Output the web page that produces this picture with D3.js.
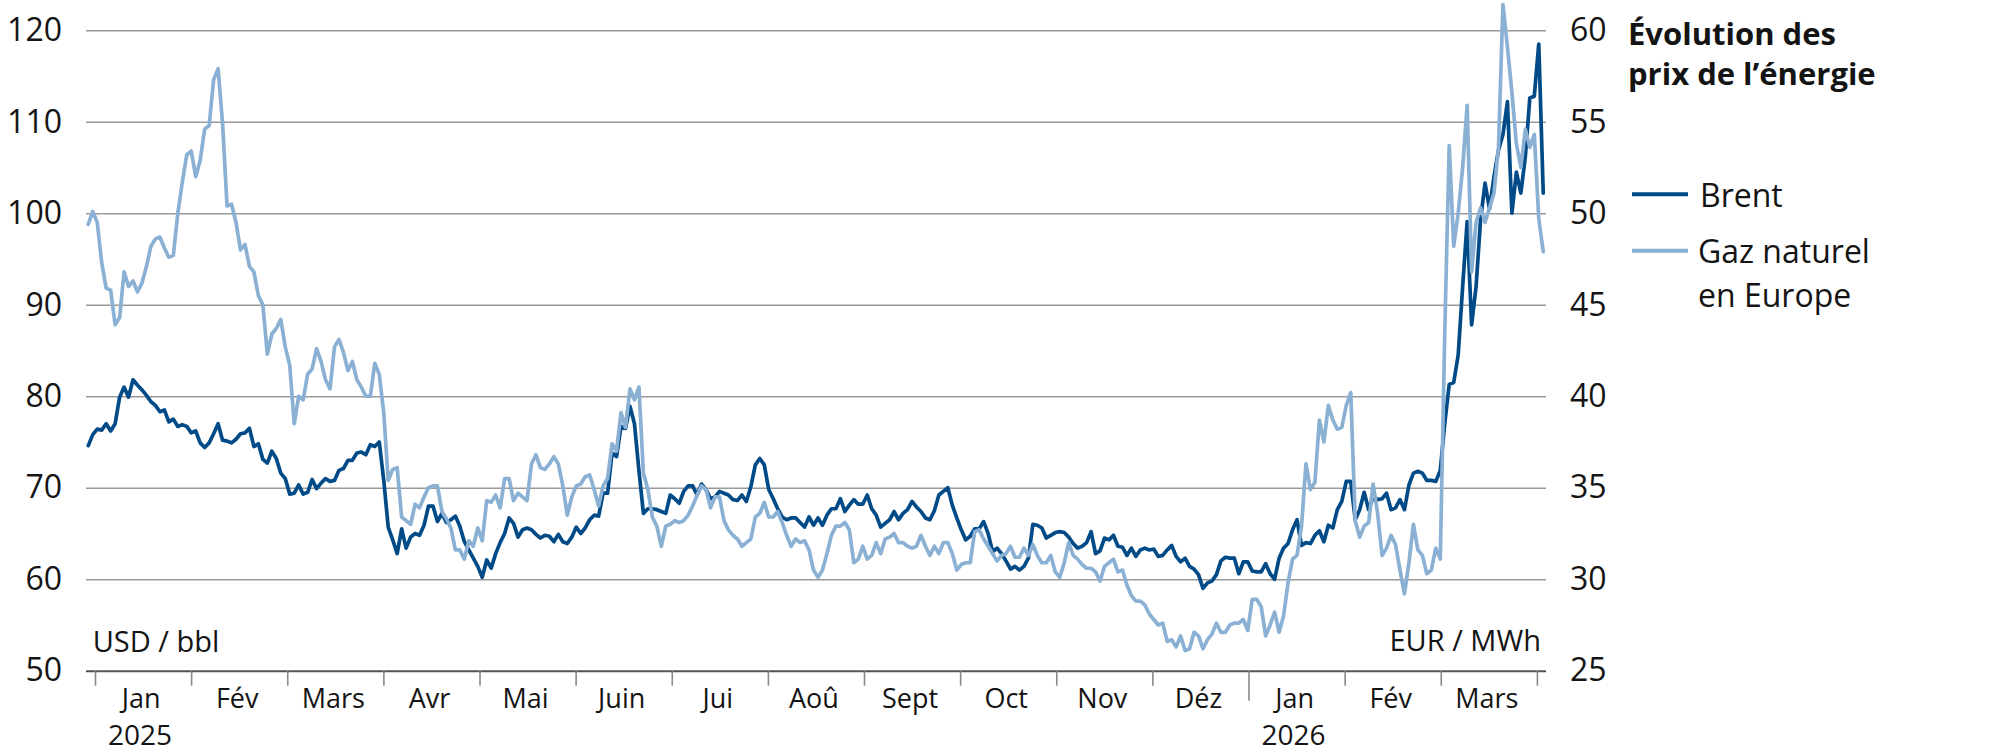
<!DOCTYPE html>
<html><head><meta charset="utf-8">
<script src="https://cdn.jsdelivr.net/npm/d3@7"></script>
<style>
body{margin:0;background:#fff}
svg{display:block}
text{font-family:"Open Sans",sans-serif;fill:#141414}
</style>
</head><body>
<svg id="chart" width="2000" height="753"></svg>
<script>
// ---------- data ----------
const months = ["Jan","Fév","Mars","Avr","Mai","Juin","Jui","Aoû","Sept","Oct","Nov","Déz","Jan","Fév","Mars"];
const yearLabels = ["2025","2026"];
const yearMonthIndex = [0,12];
const leftTicks = [50,60,70,80,90,100,110,120];
const rightTicks = [25,30,35,40,45,50,55,60];
const seriesNames = ["Brent","Gaz naturel","en Europe"];
const unitLeft = "USD / bbl";
const unitRight = "EUR / MWh";
const titleLines = ["Évolution des","prix de l’énergie"];
// first / last observation, in months from 1 Jan 2025 (trading days evenly spaced)
const firstMonth = -0.07, lastMonth = 15.066;

const brent = [
74.6,75.8,76.4,76.3,77.0,76.2,77.0,79.9,81.0,79.9,
81.8,81.2,80.7,80.1,79.4,79.0,78.3,78.5,77.2,77.5,
76.7,76.9,76.7,76.0,76.2,74.9,74.4,74.9,75.9,77.0,
75.2,75.1,74.9,75.3,75.9,76.0,76.5,74.5,74.8,73.1,
72.7,74.0,73.2,71.6,71.0,69.3,69.4,70.3,69.3,69.5,
70.9,69.9,70.5,71.0,70.7,70.8,71.9,72.1,73.0,73.0,
73.8,73.9,73.6,74.7,74.5,75.0,70.8,65.7,64.3,62.8,
65.5,63.4,64.6,65.0,64.8,65.9,68.0,68.0,66.3,67.2,
66.2,66.5,66.9,65.8,64.1,63.2,62.3,61.4,60.2,62.1,
61.2,62.8,64.0,65.0,66.7,66.1,64.6,65.4,65.6,65.4,
64.9,64.5,64.8,64.7,64.1,64.9,64.1,63.9,64.6,65.7,
65.0,65.6,66.5,67.0,66.9,69.4,69.4,73.8,73.4,76.7,
76.5,78.9,77.0,71.9,67.2,67.7,67.7,67.6,67.4,67.2,
69.2,68.8,68.3,69.6,70.2,70.2,69.2,70.4,69.8,68.8,
69.0,69.6,69.4,69.2,68.7,68.6,69.2,68.5,70.1,72.5,
73.2,72.5,69.8,68.8,67.7,66.8,66.5,66.7,66.7,66.2,
65.7,66.8,65.9,66.7,65.9,67.0,67.7,67.7,68.8,67.4,
68.1,68.7,68.2,68.2,69.2,67.7,67.0,65.7,66.1,66.5,
67.4,66.5,67.2,67.6,68.5,67.9,67.4,66.7,66.5,67.5,
69.2,69.6,70.0,68.1,66.7,65.4,64.3,64.7,65.5,65.5,
66.3,65.0,63.0,63.4,62.8,62.0,61.1,61.4,61.0,61.4,
62.3,66.0,65.9,65.6,64.5,64.8,65.1,65.2,65.1,64.6,
63.9,63.4,63.6,64.0,65.2,62.8,63.1,64.5,64.3,64.8,
63.6,63.5,62.6,63.4,62.5,63.2,63.4,63.2,63.3,62.5,
62.6,63.2,63.7,62.5,61.9,62.3,61.4,61.1,60.5,59.0,
59.6,59.8,60.5,62.0,62.4,62.3,62.3,60.6,61.9,61.9,
60.9,60.8,60.8,61.7,60.6,60.0,62.3,63.4,63.9,65.4,
66.5,63.7,64.0,63.9,64.8,65.3,64.1,65.9,65.6,67.6,
68.5,70.7,70.7,66.5,67.6,69.5,67.6,69.0,68.7,68.8,
69.4,67.6,67.8,68.7,67.6,70.3,71.6,71.8,71.6,70.8,
70.8,70.7,71.9,77.0,81.3,81.5,84.5,92.0,99.1,87.8,
92.0,99.3,103.3,100.5,104.0,106.9,108.6,112.2,100.0,104.5,
102.2,106.2,112.6,112.8,118.5,102.2
];

const gas = [
49.4,50.1,49.5,47.3,45.9,45.8,43.9,44.3,46.8,46.0,
46.3,45.7,46.2,47.1,48.2,48.6,48.7,48.1,47.6,47.7,
50.0,51.7,53.2,53.4,52.0,52.9,54.6,54.8,57.3,57.9,
54.9,50.4,50.5,49.5,48.0,48.3,47.1,46.8,45.5,45.0,
42.3,43.4,43.7,44.2,42.7,41.7,38.5,40.0,39.8,41.2,
41.5,42.6,41.9,40.9,40.4,42.7,43.1,42.4,41.4,41.9,
40.9,40.5,40.0,40.0,41.8,41.2,39.1,35.4,36.0,36.1,
33.4,33.2,33.0,34.1,33.9,34.5,35.0,35.1,35.1,33.7,
33.3,32.8,31.6,31.6,31.1,32.1,31.8,32.8,32.1,34.3,
34.2,34.6,33.9,35.5,35.5,34.3,34.7,34.5,34.3,36.3,
36.8,36.1,36.0,36.3,36.7,36.3,35.1,33.5,34.5,35.1,
35.2,35.6,35.7,34.9,34.0,35.1,35.5,37.4,37.0,39.1,
38.3,40.4,39.8,40.5,35.8,34.9,33.4,32.9,31.8,32.9,
33.0,33.2,33.1,33.2,33.5,34.0,34.6,35.1,34.9,33.9,
34.5,34.5,33.2,32.7,32.4,32.2,31.8,32.0,32.2,33.4,
33.6,34.2,33.4,33.4,33.7,33.1,32.4,31.8,32.2,32.0,
32.1,31.6,30.5,30.1,30.5,31.4,32.4,32.9,32.9,33.1,
32.7,30.9,31.1,31.8,31.1,31.3,32.0,31.4,32.2,32.3,
32.5,32.0,32.0,31.8,31.7,31.8,32.4,31.8,31.3,31.8,
31.4,32.0,32.0,31.4,30.5,30.8,30.9,30.9,32.6,32.7,
32.2,31.8,31.4,31.0,31.3,31.4,31.8,31.2,31.2,31.7,
31.3,31.9,31.3,30.9,30.9,31.3,30.4,30.1,30.9,32.0,
31.3,31.1,30.8,30.6,30.6,30.4,29.9,30.7,30.9,31.1,
30.4,30.5,29.7,29.1,28.8,28.8,28.6,28.1,27.8,27.5,
27.6,26.6,26.7,26.3,26.9,26.1,26.2,27.1,26.9,26.2,
26.7,27.0,27.6,27.1,27.1,27.5,27.6,27.6,27.8,27.2,
28.9,28.9,28.5,26.9,27.5,28.2,27.1,28.0,29.8,31.1,
31.3,32.9,36.3,34.9,35.3,38.7,37.5,39.5,38.7,38.2,
38.3,39.5,40.2,33.2,32.3,32.9,33.1,35.2,33.6,31.3,
31.7,32.4,31.9,30.5,29.2,30.9,33.0,31.6,31.3,30.3,
30.5,31.7,31.1,43.5,53.7,48.2,50.0,52.5,55.9,46.8,
49.5,50.3,49.5,50.3,51.1,53.6,61.4,59.1,56.6,53.8,
52.5,54.6,53.6,54.3,49.7,47.9
];

// ---------- layout ----------
const BRENT_COLOR = "#004b87";
const GAS_COLOR = "#8ab0d4";
const plotLeft = 86, plotRight = 1546, plotTop = 30.3, plotBottom = 670.7;

const svg = d3.select("#chart");

const x = d3.scaleLinear().domain([0, 15]).range([95, 1536.9]);
const yL = d3.scaleLinear().domain([50, 120]).range([plotBottom, plotTop]);
const yR = d3.scaleLinear().domain([25, 60]).range([plotBottom, plotTop]);

const tOf = i => firstMonth + i * (lastMonth - firstMonth) / (brent.length - 1);

// left axis + gridlines
const gL = svg.append("g").attr("transform", `translate(${plotLeft},0)`)
  .call(d3.axisLeft(yL).tickValues(leftTicks).tickSize(-(plotRight - plotLeft)).tickPadding(24));
gL.select(".domain").remove();
gL.selectAll(".tick line").attr("stroke", "#999").attr("stroke-width", 1.4);
gL.selectAll(".tick").filter(d => d === 50).select("line").attr("stroke", "#555").attr("stroke-width", 2);
gL.selectAll(".tick text").attr("font-size", 32).attr("fill", "#141414");

// right axis
const gR = svg.append("g").attr("transform", `translate(${plotRight},0)`)
  .call(d3.axisRight(yR).tickValues(rightTicks).tickSize(0).tickPadding(24));
gR.select(".domain").remove();
gR.selectAll(".tick text").attr("font-size", 32).attr("fill", "#141414");

// bottom axis ticks
const gB = svg.append("g").attr("transform", `translate(0,${plotBottom})`)
  .call(d3.axisBottom(x).tickValues(d3.range(0, 16)).tickSize(15).tickFormat(""));
gB.select(".domain").remove();
gB.selectAll(".tick line").attr("stroke", "#888").attr("stroke-width", 1.6)
  .attr("y2", d => yearMonthIndex.includes(d) && d > 0 ? 30 : 15);

// month labels
svg.append("g").selectAll("text").data(months).join("text")
  .attr("x", (d, i) => x(i + 0.5) - 2)
  .attr("y", 708)
  .attr("text-anchor", "middle")
  .attr("font-size", 27)
  .text(d => d);

svg.append("g").selectAll("text").data(yearLabels).join("text")
  .attr("x", (d, i) => x(yearMonthIndex[i] + 0.5) - 3)
  .attr("y", 745)
  .attr("text-anchor", "middle")
  .attr("font-size", 28)
  .text(d => d);

// unit labels
svg.append("text").attr("x", 92.7).attr("y", 651.7).attr("font-size", 29).text(unitLeft);
svg.append("text").attr("x", 1541).attr("y", 651).attr("font-size", 29).attr("text-anchor", "end").text(unitRight);

// lines
const lineL = d3.line().x((d, i) => x(tOf(i))).y(d => yL(d));
const lineR = d3.line().x((d, i) => x(tOf(i))).y(d => yR(d));

svg.append("path").datum(brent)
  .attr("d", lineL).attr("fill", "none").attr("stroke", BRENT_COLOR)
  .attr("stroke-width", 3.7).attr("stroke-linejoin", "round").attr("stroke-linecap", "round");
svg.append("path").datum(gas)
  .attr("d", lineR).attr("fill", "none").attr("stroke", GAS_COLOR)
  .attr("stroke-width", 3.7).attr("stroke-linejoin", "round").attr("stroke-linecap", "round");

// title
svg.append("g").selectAll("text").data(titleLines).join("text")
  .attr("x", 1628).attr("y", (d, i) => 45 + i * 40)
  .attr("font-size", 31).attr("font-weight", 700)
  .text(d => d);

// legend
const leg = svg.append("g");
leg.append("line").attr("x1", 1632).attr("x2", 1688).attr("y1", 194.3).attr("y2", 194.3)
  .attr("stroke", BRENT_COLOR).attr("stroke-width", 4);
leg.append("text").attr("x", 1700).attr("y", 207).attr("font-size", 32).text(seriesNames[0]);
leg.append("line").attr("x1", 1632).attr("x2", 1688).attr("y1", 250.7).attr("y2", 250.7)
  .attr("stroke", GAS_COLOR).attr("stroke-width", 4);
leg.append("text").attr("x", 1698).attr("y", 263.3).attr("font-size", 32).text(seriesNames[1]);
leg.append("text").attr("x", 1698).attr("y", 306.7).attr("font-size", 32).text(seriesNames[2]);
</script>
</body></html>
